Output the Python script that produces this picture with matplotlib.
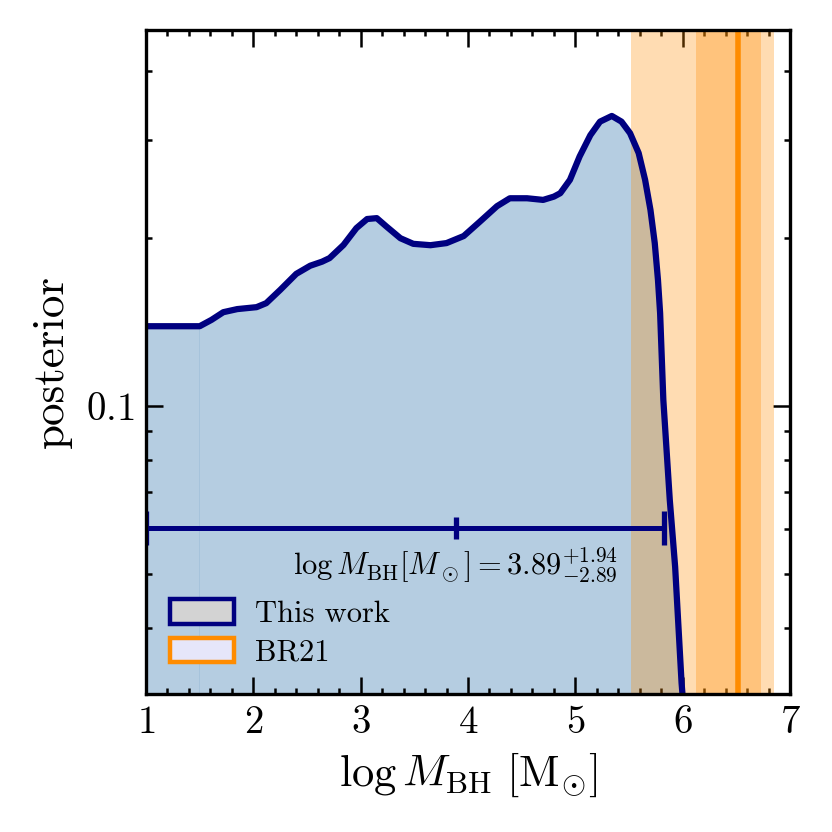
import matplotlib
matplotlib.use('Agg')
import matplotlib.pyplot as plt
from matplotlib.patches import Patch
from matplotlib.ticker import FixedLocator, LogLocator, NullFormatter, FixedFormatter, MultipleLocator

plt.rcParams['font.family'] = 'serif'
plt.rcParams['font.serif'] = ['cmr10']
plt.rcParams['mathtext.fontset'] = 'cm'
plt.rcParams['axes.unicode_minus'] = False

# posterior of log M_BH
logm = [1.0, 1.5, 1.61, 1.72, 1.85, 2.03, 2.12, 2.25, 2.40, 2.53, 2.64, 2.71,
        2.84, 2.96, 3.06, 3.15, 3.24, 3.37, 3.49, 3.65, 3.80, 3.96, 4.11,
        4.27, 4.39, 4.55, 4.70, 4.80, 4.86, 4.95, 5.04, 5.14, 5.23, 5.34,
        5.43, 5.51, 5.59, 5.65, 5.70, 5.74, 5.77, 5.79, 5.82, 5.88, 5.93,
        5.99, 6.02]
post = [0.139, 0.139, 0.1427, 0.1473, 0.1492, 0.1504, 0.1529, 0.1615, 0.1726,
        0.1785, 0.1815, 0.1842, 0.1945, 0.2085, 0.2165, 0.2173, 0.2099, 0.2000,
        0.1954, 0.1943, 0.1960, 0.2018, 0.2141, 0.2283, 0.2359, 0.2359, 0.2343,
        0.2375, 0.2409, 0.2546, 0.2804, 0.3062, 0.3238, 0.3315, 0.3238, 0.3087,
        0.2844, 0.2546, 0.2248, 0.1960, 0.1683, 0.1467, 0.1025, 0.0678, 0.0514,
        0.0318, 0.027]

# this work: median and errors
m_med = 3.89
m_err_lo = 2.89
m_err_hi = 1.94
err_y = 0.0604

# BR21 value with 1 and 2 sigma ranges
br21 = 6.52
br21_1sig = (6.12, 6.73)
br21_2sig = (5.52, 6.85)

fig = plt.figure(figsize=(8.32, 8.32), dpi=100)
ax = fig.add_axes([0.1755, 0.1659, 0.774, 0.7981])

# fill under the curve (flat part and the rest)
n_flat = 2
ax.fill_between(logm[:n_flat], post[:n_flat], 1e-3, color='steelblue', alpha=0.4, lw=0, zorder=1)
ax.fill_between(logm[n_flat - 1:], post[n_flat - 1:], 1e-3, color='steelblue', alpha=0.4, lw=0, zorder=1)

# BR21 bands
ax.axvspan(*br21_2sig, color='darkorange', alpha=0.3, lw=0, zorder=2)
ax.axvspan(*br21_1sig, color='darkorange', alpha=0.3, lw=0, zorder=2)
ax.axvline(br21, color='darkorange', lw=4, zorder=3)

ax.plot(logm, post, color='navy', lw=4.5, solid_joinstyle='round', solid_capstyle='butt', zorder=4)

ax.errorbar(m_med, err_y, xerr=[[m_err_lo], [m_err_hi]], fmt='|', color='navy',
            ms=16, mew=3.8, elinewidth=3.6, capsize=12, capthick=3.6, zorder=5)
ax.text(5.4, 0.0518,
        r'$\log M_{\rm BH}[M_\odot] = %.2f^{+%.2f}_{-%.2f}$' % (m_med, m_err_hi, m_err_lo),
        fontsize=22, ha='right', va='center', zorder=6)

ax.set_yscale('log')
ax.set_xlim(1, 7)
ax.set_ylim(0.0304, 0.473)

ax.xaxis.set_major_locator(MultipleLocator(1))
ax.xaxis.set_minor_locator(MultipleLocator(0.2))
ax.yaxis.set_major_locator(FixedLocator([0.1]))
ax.yaxis.set_major_formatter(FixedFormatter([r'$0.1$']))
ax.yaxis.set_minor_locator(LogLocator(base=10, subs=range(2, 10)))
ax.yaxis.set_minor_formatter(NullFormatter())
ax.set_xticks(range(1, 8))
ax.set_xticklabels([r'$%d$' % v for v in range(1, 8)])

ax.tick_params(which='both', direction='in', top=True, right=True, width=1.8, labelsize=28, pad=8)
ax.tick_params(which='major', length=12)
ax.tick_params(which='minor', length=4.5)
for s in ax.spines.values():
    s.set_linewidth(2.4)
    s.set_zorder(10)

ax.set_xlabel(r'$\log M_{\rm BH}\ [\mathrm{M}_{\odot}]$', fontsize=32)
ax.set_ylabel('posterior', fontsize=32.5)
ax.xaxis.set_label_coords(0.5, -0.085)
ax.yaxis.set_label_coords(-0.115, 0.5)

handles = [Patch(facecolor='lightgray', edgecolor='navy', lw=3.2),
           Patch(facecolor='lavender', edgecolor='darkorange', lw=3.2)]
ax.legend(handles, ['This work', 'BR21'], loc='lower left', bbox_to_anchor=(0.018, 0.023),
          frameon=False, fontsize=22, handlelength=2.1, handleheight=0.85, borderaxespad=0,
          labelspacing=0.32, handletextpad=0.7)

fig.savefig('out.png', dpi=100)
